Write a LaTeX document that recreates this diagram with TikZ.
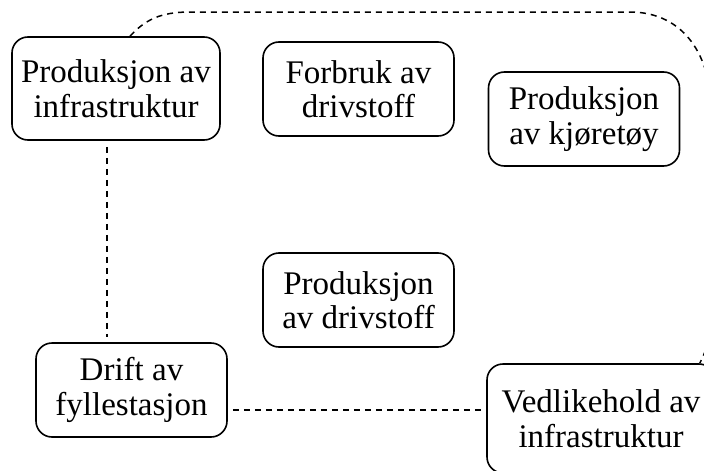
\documentclass[tikz,border=0pt]{standalone}
\usepackage{fontspec}
\setmainfont{Liberation Serif}
\usetikzlibrary{positioning}

\begin{document}
\begin{tikzpicture}[
    x=1pt, y=-1pt,
    stagebox/.style={rectangle, rounded corners=16pt, draw=black, line width=1.6pt,
      align=center, minimum width=191pt, minimum height=94pt, inner sep=0pt,
      font=\fontsize{33}{34.5}\selectfont},
    link/.style={draw=black, line width=1.5pt, dash pattern=on 6pt off 5pt}
    ]
    \path[use as bounding box, clip] (0,0) rectangle (704,471);

    \node[stagebox, minimum width=208pt, minimum height=103pt]
                      (infra)     at (116,88.5)   {Produksjon av\\infrastruktur};
    \node[stagebox]   (forbruk)   at (358.5,89)   {Forbruk av\\drivstoff};
    \node[stagebox]   (kjoretoy)  at (584,119)    {Produksjon\\av kjøretøy};
    \node[stagebox]   (drivstoff) at (358.5,300)  {Produksjon\\av drivstoff};
    \node[stagebox]   (drift)     at (131.5,390)  {Drift av\\fyllestasjon};
    \node[stagebox, minimum width=228pt, minimum height=109pt]
                      (vedlikehold) at (601,418.5) {Vedlikehold av\\infrastruktur};

    \draw[link, shorten <=6pt, shorten >=5pt] ([xshift=-9pt]infra.south)
      -- ([xshift=-9pt]infra.south |- drift.north);
    \draw[link, shorten <=5pt, shorten >=5pt] ([yshift=-20pt]drift.east)
      -- ([yshift=-20pt]drift.east -| vedlikehold.west);
    \draw[link] ([xshift=14pt]infra.north) .. controls (145,20) and (160,12) .. (190,12)
      -- (630,12) .. controls (676,12) and (712,45) .. (712,118)
      -- (712,300) .. controls (712,340) and (706,350) .. ([xshift=-16pt]vedlikehold.north east);
\end{tikzpicture}
\end{document}
